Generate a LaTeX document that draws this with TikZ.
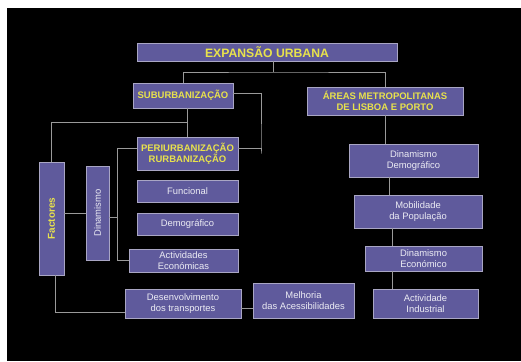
\documentclass[tikz,border=0pt]{standalone}
\usepackage{fontspec}
\setmainfont{Liberation Sans}
\definecolor{boxfill}{HTML}{5F5A9C}
\definecolor{boxline}{HTML}{A9A6C4}
\definecolor{headtext}{HTML}{E8E24C}
\definecolor{bodytext}{HTML}{ECECF4}
\definecolor{wire}{HTML}{9A9A9A}
\tikzset{
  box/.style={draw=boxline, line width=0.8pt, fill=boxfill, inner sep=1pt,
              align=center},
  head/.style={box, text=headtext, font=\fontsize{9.5}{10.8}\selectfont\bfseries},
  body/.style={box, text=bodytext, font=\fontsize{9.4}{10.7}\selectfont},
  wires/.style={draw=wire, line width=0.9pt},
}
\begin{document}
\begin{tikzpicture}[x=1pt, y=-1pt]
  % page frame
  \fill[white] (0,0) rectangle (521,361);
  \fill[black] (7,8) rectangle (521,361);
  \useasboundingbox (0,0) rectangle (521,361);

  % boxes
  \node[head, minimum width=260pt, minimum height=18pt,
        font=\fontsize{12.2}{14}\selectfont\bfseries] (top) at (267,52) {EXPANSÃO URBANA};
  \node[head, minimum width=100pt, minimum height=25pt] (sub) at (183,95.5) {SUBURBANIZAÇÃO};
  \node[head, minimum width=156pt, minimum height=28pt] (areas) at (385,101)
       {ÁREAS METROPOLITANAS\\DE LISBOA E PORTO};
  \node[head, minimum width=101pt, minimum height=33pt] (peri) at (187.5,153.5)
       {PERIURBANIZAÇÃO\\RURBANIZAÇÃO};
  \node[head, minimum width=113pt, minimum height=25pt, rotate=90,
        font=\fontsize{10}{11}\selectfont\bfseries] (fact) at (51.5,218.5) {Factores};
  \node[body, minimum width=94pt, minimum height=23pt, rotate=90] (dina) at (97.5,213) {Dinamismo};
  \node[body, minimum width=101pt, minimum height=22pt] (func) at (187.5,191) {Funcional};
  \node[body, minimum width=101pt, minimum height=22pt] (demo) at (187.5,224) {Demográfico};
  \node[body, minimum width=109pt, minimum height=23pt] (activ) at (183.5,260.5)
       {Actividades\\Económicas};
  \node[body, minimum width=116pt, minimum height=29pt] (desen) at (183,303.5)
       {Desenvolvimento\\dos transportes};
  \node[body, minimum width=101pt, minimum height=35pt] (melh) at (303.5,300.5)
       {Melhoria\\das Acessibilidades};
  \node[body, minimum width=129pt, minimum height=33pt] (dindem) at (413.5,160.5)
       {Dinamismo\\Demográfico};
  \node[body, minimum width=128pt, minimum height=33pt] (mob) at (418,211.5)
       {Mobilidade\\da População};
  \node[body, minimum width=117pt, minimum height=25pt] (dinec) at (423.5,258.5)
       {Dinamismo\\Económico};
  \node[body, minimum width=105pt, minimum height=29pt] (actind) at (425.5,303.5)
       {Actividade\\Industrial};

  % junction points
  \coordinate (j1) at (273,72);
  \coordinate (j2) at (187,122);
  \coordinate (br) at (117,0);
  \coordinate (rs) at (261,0);
  \coordinate (c1) at (389,0);
  \coordinate (c2) at (392,0);

  % connectors (rotated boxes: south is the right side, east the top, west the bottom)
  \draw[wires] (j1 |- top.south) -- (j1);
  \draw[wires] (sub.north) |- (j1) -| (areas.north);
  \draw[wires] ([yshift=2.5pt]sub.east) -| (rs |- peri.east)
               -- ([yshift=5.5pt]peri.east -| rs) -- ([yshift=5.5pt]peri.east);
  \draw[wires] (peri.north |- sub.south) -- (peri.north);
  \draw[wires] (j2) -| (fact.east);
  \draw[wires] ([yshift=5.5pt]peri.west) -| (br |- activ.west) -- (activ.west);
  \draw[wires] ([yshift=-4pt]dina.south) -- ([yshift=-4pt]dina.south -| br);
  \draw[wires] (fact.south |- dina.north) -- (dina.north);
  \draw[wires] ([xshift=3.5pt]fact.west) |- ([yshift=-8.5pt]desen.west);
  \draw[wires] ([yshift=-4.5pt]desen.east) -- ([yshift=-7.5pt]melh.west);
  \draw[wires] (areas.south) -- (areas.south |- dindem.north);
  \draw[wires] (c1 |- dindem.south) -- (c1 |- mob.north);
  \draw[wires] (c2 |- mob.south) -- (c2 |- dinec.north);
  \draw[wires] (c2 |- dinec.south) -- (c2 |- actind.north);
\end{tikzpicture}
\end{document}
